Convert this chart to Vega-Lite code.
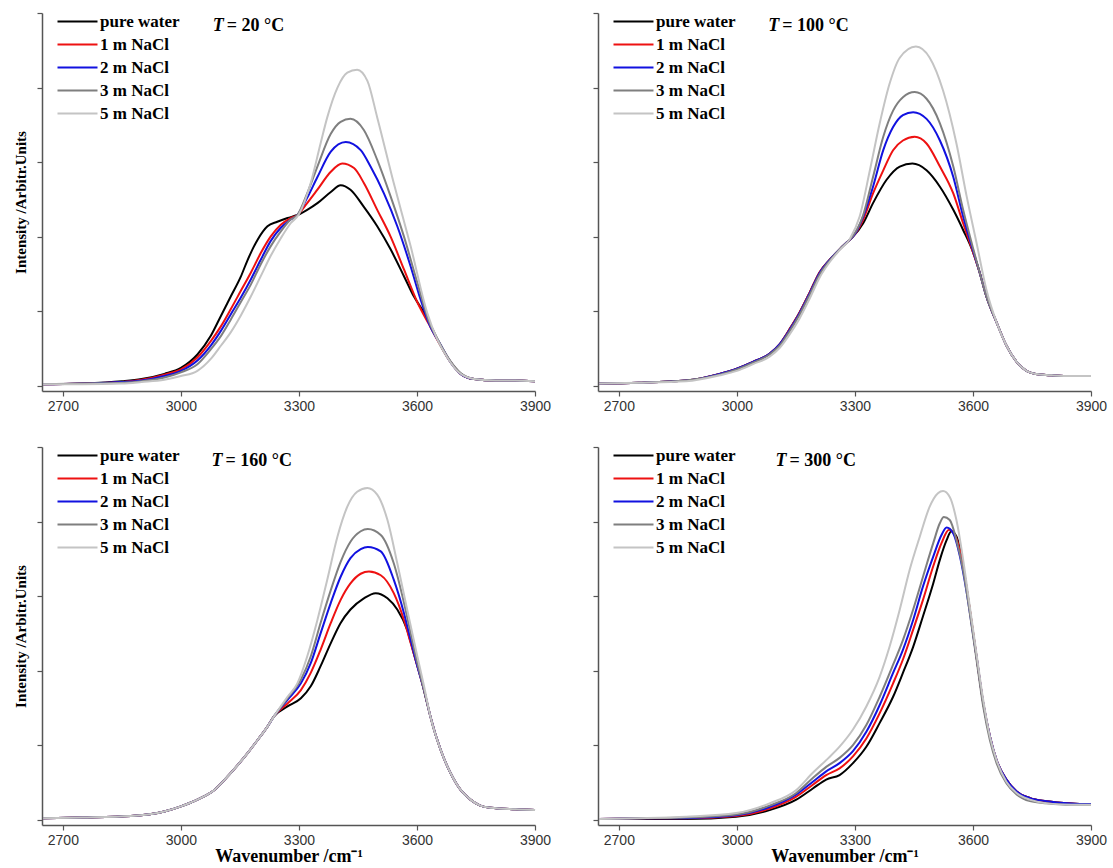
{
"$schema": "https://vega.github.io/schema/vega-lite/v6.json",
"padding": {"left": 13, "top": 12, "right": 12, "bottom": 5},
"background": "white",
"config": {
 "view": {"stroke": null},
 "axis": {"grid": false, "domainColor": "#555555", "tickColor": "#555555", "tickSize": 5, "domainWidth": 1.5, "tickWidth": 1.2, "labelFont": "Liberation Sans", "labelFontSize": 14, "labelColor": "#333333", "labelFlush": false, "labelPadding": 3, "titleFont": "Liberation Serif", "titleFontWeight": "bold", "titleColor": "#000000"},
 "axisY": {"titleFontSize": 15, "titlePadding": 8},
 "axisX": {"titleFontSize": 18, "titlePadding": 0, "format": "d"},
 "legend": {"orient": "none", "legendX": 27, "legendY": 0, "padding": 0, "title": null, "symbolType": "M-4,0H4", "symbolSize": 100, "symbolStrokeWidth": 2, "symbolFillColor": "transparent", "labelFont": "Liberation Serif", "labelFontSize": 17, "labelFontWeight": "bold", "labelColor": "#000000", "labelOffset": 14, "rowPadding": 5}
},
"datasets": {"spectra": [
{"T":20,"s":"pure water","w":2650,"v":0.02},{"T":20,"s":"pure water","w":2750,"v":0.03},{"T":20,"s":"pure water","w":2850,"v":0.06},{"T":20,"s":"pure water","w":2900,"v":0.09},{"T":20,"s":"pure water","w":2958,"v":0.16},{"T":20,"s":"pure water","w":3000,"v":0.24},{"T":20,"s":"pure water","w":3042,"v":0.42},{"T":20,"s":"pure water","w":3076,"v":0.67},{"T":20,"s":"pure water","w":3102,"v":0.94},{"T":20,"s":"pure water","w":3127,"v":1.2},{"T":20,"s":"pure water","w":3152,"v":1.46},{"T":20,"s":"pure water","w":3169,"v":1.68},{"T":20,"s":"pure water","w":3195,"v":1.96},{"T":20,"s":"pure water","w":3220,"v":2.14},{"T":20,"s":"pure water","w":3245,"v":2.2},{"T":20,"s":"pure water","w":3271,"v":2.25},{"T":20,"s":"pure water","w":3296,"v":2.29},{"T":20,"s":"pure water","w":3321,"v":2.36},{"T":20,"s":"pure water","w":3347,"v":2.45},{"T":20,"s":"pure water","w":3381,"v":2.6},{"T":20,"s":"pure water","w":3406,"v":2.69},{"T":20,"s":"pure water","w":3431,"v":2.63},{"T":20,"s":"pure water","w":3465,"v":2.4},{"T":20,"s":"pure water","w":3499,"v":2.14},{"T":20,"s":"pure water","w":3533,"v":1.83},{"T":20,"s":"pure water","w":3567,"v":1.47},{"T":20,"s":"pure water","w":3592,"v":1.2},{"T":20,"s":"pure water","w":3618,"v":0.98},{"T":20,"s":"pure water","w":3634,"v":0.82},{"T":20,"s":"pure water","w":3660,"v":0.54},{"T":20,"s":"pure water","w":3685,"v":0.32},{"T":20,"s":"pure water","w":3711,"v":0.16},{"T":20,"s":"pure water","w":3745,"v":0.09},{"T":20,"s":"pure water","w":3800,"v":0.07},{"T":20,"s":"pure water","w":3850,"v":0.07},{"T":20,"s":"pure water","w":3900,"v":0.06},
{"T":20,"s":"1 m NaCl","w":2650,"v":0.02},{"T":20,"s":"1 m NaCl","w":2750,"v":0.03},{"T":20,"s":"1 m NaCl","w":2850,"v":0.05},{"T":20,"s":"1 m NaCl","w":2900,"v":0.08},{"T":20,"s":"1 m NaCl","w":2958,"v":0.15},{"T":20,"s":"1 m NaCl","w":3000,"v":0.22},{"T":20,"s":"1 m NaCl","w":3042,"v":0.38},{"T":20,"s":"1 m NaCl","w":3076,"v":0.6},{"T":20,"s":"1 m NaCl","w":3102,"v":0.8},{"T":20,"s":"1 m NaCl","w":3127,"v":1.03},{"T":20,"s":"1 m NaCl","w":3152,"v":1.27},{"T":20,"s":"1 m NaCl","w":3178,"v":1.52},{"T":20,"s":"1 m NaCl","w":3203,"v":1.78},{"T":20,"s":"1 m NaCl","w":3228,"v":2.0},{"T":20,"s":"1 m NaCl","w":3254,"v":2.16},{"T":20,"s":"1 m NaCl","w":3279,"v":2.25},{"T":20,"s":"1 m NaCl","w":3296,"v":2.29},{"T":20,"s":"1 m NaCl","w":3321,"v":2.45},{"T":20,"s":"1 m NaCl","w":3347,"v":2.63},{"T":20,"s":"1 m NaCl","w":3381,"v":2.87},{"T":20,"s":"1 m NaCl","w":3410,"v":2.98},{"T":20,"s":"1 m NaCl","w":3440,"v":2.92},{"T":20,"s":"1 m NaCl","w":3465,"v":2.72},{"T":20,"s":"1 m NaCl","w":3499,"v":2.36},{"T":20,"s":"1 m NaCl","w":3533,"v":2.0},{"T":20,"s":"1 m NaCl","w":3567,"v":1.56},{"T":20,"s":"1 m NaCl","w":3601,"v":1.12},{"T":20,"s":"1 m NaCl","w":3630,"v":0.83},{"T":20,"s":"1 m NaCl","w":3660,"v":0.54},{"T":20,"s":"1 m NaCl","w":3685,"v":0.32},{"T":20,"s":"1 m NaCl","w":3711,"v":0.16},{"T":20,"s":"1 m NaCl","w":3745,"v":0.09},{"T":20,"s":"1 m NaCl","w":3800,"v":0.07},{"T":20,"s":"1 m NaCl","w":3850,"v":0.07},{"T":20,"s":"1 m NaCl","w":3900,"v":0.06},
{"T":20,"s":"2 m NaCl","w":2650,"v":0.02},{"T":20,"s":"2 m NaCl","w":2750,"v":0.03},{"T":20,"s":"2 m NaCl","w":2850,"v":0.05},{"T":20,"s":"2 m NaCl","w":2900,"v":0.07},{"T":20,"s":"2 m NaCl","w":2958,"v":0.13},{"T":20,"s":"2 m NaCl","w":3000,"v":0.2},{"T":20,"s":"2 m NaCl","w":3042,"v":0.34},{"T":20,"s":"2 m NaCl","w":3076,"v":0.54},{"T":20,"s":"2 m NaCl","w":3102,"v":0.74},{"T":20,"s":"2 m NaCl","w":3127,"v":0.96},{"T":20,"s":"2 m NaCl","w":3152,"v":1.18},{"T":20,"s":"2 m NaCl","w":3178,"v":1.43},{"T":20,"s":"2 m NaCl","w":3203,"v":1.69},{"T":20,"s":"2 m NaCl","w":3228,"v":1.94},{"T":20,"s":"2 m NaCl","w":3254,"v":2.12},{"T":20,"s":"2 m NaCl","w":3279,"v":2.23},{"T":20,"s":"2 m NaCl","w":3296,"v":2.29},{"T":20,"s":"2 m NaCl","w":3321,"v":2.52},{"T":20,"s":"2 m NaCl","w":3347,"v":2.8},{"T":20,"s":"2 m NaCl","w":3381,"v":3.14},{"T":20,"s":"2 m NaCl","w":3419,"v":3.27},{"T":20,"s":"2 m NaCl","w":3457,"v":3.16},{"T":20,"s":"2 m NaCl","w":3482,"v":2.94},{"T":20,"s":"2 m NaCl","w":3516,"v":2.58},{"T":20,"s":"2 m NaCl","w":3550,"v":2.14},{"T":20,"s":"2 m NaCl","w":3584,"v":1.6},{"T":20,"s":"2 m NaCl","w":3609,"v":1.16},{"T":20,"s":"2 m NaCl","w":3630,"v":0.84},{"T":20,"s":"2 m NaCl","w":3660,"v":0.55},{"T":20,"s":"2 m NaCl","w":3685,"v":0.32},{"T":20,"s":"2 m NaCl","w":3711,"v":0.16},{"T":20,"s":"2 m NaCl","w":3745,"v":0.09},{"T":20,"s":"2 m NaCl","w":3800,"v":0.07},{"T":20,"s":"2 m NaCl","w":3850,"v":0.07},{"T":20,"s":"2 m NaCl","w":3900,"v":0.06},
{"T":20,"s":"3 m NaCl","w":2650,"v":0.02},{"T":20,"s":"3 m NaCl","w":2750,"v":0.03},{"T":20,"s":"3 m NaCl","w":2850,"v":0.04},{"T":20,"s":"3 m NaCl","w":2900,"v":0.06},{"T":20,"s":"3 m NaCl","w":2958,"v":0.11},{"T":20,"s":"3 m NaCl","w":3000,"v":0.18},{"T":20,"s":"3 m NaCl","w":3042,"v":0.29},{"T":20,"s":"3 m NaCl","w":3076,"v":0.49},{"T":20,"s":"3 m NaCl","w":3102,"v":0.67},{"T":20,"s":"3 m NaCl","w":3127,"v":0.89},{"T":20,"s":"3 m NaCl","w":3152,"v":1.12},{"T":20,"s":"3 m NaCl","w":3178,"v":1.36},{"T":20,"s":"3 m NaCl","w":3203,"v":1.63},{"T":20,"s":"3 m NaCl","w":3228,"v":1.87},{"T":20,"s":"3 m NaCl","w":3254,"v":2.07},{"T":20,"s":"3 m NaCl","w":3279,"v":2.23},{"T":20,"s":"3 m NaCl","w":3296,"v":2.29},{"T":20,"s":"3 m NaCl","w":3321,"v":2.58},{"T":20,"s":"3 m NaCl","w":3347,"v":2.94},{"T":20,"s":"3 m NaCl","w":3381,"v":3.38},{"T":20,"s":"3 m NaCl","w":3406,"v":3.54},{"T":20,"s":"3 m NaCl","w":3431,"v":3.58},{"T":20,"s":"3 m NaCl","w":3465,"v":3.43},{"T":20,"s":"3 m NaCl","w":3499,"v":3.03},{"T":20,"s":"3 m NaCl","w":3533,"v":2.54},{"T":20,"s":"3 m NaCl","w":3567,"v":2.0},{"T":20,"s":"3 m NaCl","w":3601,"v":1.38},{"T":20,"s":"3 m NaCl","w":3630,"v":0.87},{"T":20,"s":"3 m NaCl","w":3660,"v":0.55},{"T":20,"s":"3 m NaCl","w":3685,"v":0.33},{"T":20,"s":"3 m NaCl","w":3711,"v":0.17},{"T":20,"s":"3 m NaCl","w":3745,"v":0.09},{"T":20,"s":"3 m NaCl","w":3800,"v":0.07},{"T":20,"s":"3 m NaCl","w":3850,"v":0.07},{"T":20,"s":"3 m NaCl","w":3900,"v":0.06},
{"T":20,"s":"5 m NaCl","w":2650,"v":0.02},{"T":20,"s":"5 m NaCl","w":2750,"v":0.02},{"T":20,"s":"5 m NaCl","w":2850,"v":0.03},{"T":20,"s":"5 m NaCl","w":2900,"v":0.05},{"T":20,"s":"5 m NaCl","w":2958,"v":0.08},{"T":20,"s":"5 m NaCl","w":3000,"v":0.13},{"T":20,"s":"5 m NaCl","w":3042,"v":0.2},{"T":20,"s":"5 m NaCl","w":3076,"v":0.36},{"T":20,"s":"5 m NaCl","w":3102,"v":0.54},{"T":20,"s":"5 m NaCl","w":3127,"v":0.72},{"T":20,"s":"5 m NaCl","w":3152,"v":0.94},{"T":20,"s":"5 m NaCl","w":3178,"v":1.2},{"T":20,"s":"5 m NaCl","w":3203,"v":1.47},{"T":20,"s":"5 m NaCl","w":3228,"v":1.74},{"T":20,"s":"5 m NaCl","w":3254,"v":1.98},{"T":20,"s":"5 m NaCl","w":3279,"v":2.18},{"T":20,"s":"5 m NaCl","w":3300,"v":2.3},{"T":20,"s":"5 m NaCl","w":3330,"v":2.72},{"T":20,"s":"5 m NaCl","w":3355,"v":3.25},{"T":20,"s":"5 m NaCl","w":3372,"v":3.6},{"T":20,"s":"5 m NaCl","w":3398,"v":4.0},{"T":20,"s":"5 m NaCl","w":3423,"v":4.2},{"T":20,"s":"5 m NaCl","w":3448,"v":4.24},{"T":20,"s":"5 m NaCl","w":3474,"v":4.09},{"T":20,"s":"5 m NaCl","w":3499,"v":3.6},{"T":20,"s":"5 m NaCl","w":3541,"v":2.72},{"T":20,"s":"5 m NaCl","w":3584,"v":1.87},{"T":20,"s":"5 m NaCl","w":3626,"v":0.98},{"T":20,"s":"5 m NaCl","w":3651,"v":0.63},{"T":20,"s":"5 m NaCl","w":3677,"v":0.38},{"T":20,"s":"5 m NaCl","w":3706,"v":0.18},{"T":20,"s":"5 m NaCl","w":3745,"v":0.09},{"T":20,"s":"5 m NaCl","w":3800,"v":0.07},{"T":20,"s":"5 m NaCl","w":3850,"v":0.07},{"T":20,"s":"5 m NaCl","w":3900,"v":0.06},

{"T":100,"s":"pure water","w":2650,"v":0.03},{"T":100,"s":"pure water","w":2750,"v":0.04},{"T":100,"s":"pure water","w":2871,"v":0.07},{"T":100,"s":"pure water","w":2956,"v":0.16},{"T":100,"s":"pure water","w":3000,"v":0.23},{"T":100,"s":"pure water","w":3041,"v":0.32},{"T":100,"s":"pure water","w":3083,"v":0.43},{"T":100,"s":"pure water","w":3109,"v":0.56},{"T":100,"s":"pure water","w":3134,"v":0.76},{"T":100,"s":"pure water","w":3159,"v":0.98},{"T":100,"s":"pure water","w":3185,"v":1.25},{"T":100,"s":"pure water","w":3210,"v":1.52},{"T":100,"s":"pure water","w":3236,"v":1.69},{"T":100,"s":"pure water","w":3261,"v":1.83},{"T":100,"s":"pure water","w":3287,"v":1.96},{"T":100,"s":"pure water","w":3295,"v":2.0},{"T":100,"s":"pure water","w":3321,"v":2.18},{"T":100,"s":"pure water","w":3346,"v":2.45},{"T":100,"s":"pure water","w":3380,"v":2.76},{"T":100,"s":"pure water","w":3414,"v":2.94},{"T":100,"s":"pure water","w":3446,"v":2.98},{"T":100,"s":"pure water","w":3482,"v":2.89},{"T":100,"s":"pure water","w":3516,"v":2.67},{"T":100,"s":"pure water","w":3550,"v":2.36},{"T":100,"s":"pure water","w":3575,"v":2.09},{"T":100,"s":"pure water","w":3601,"v":1.78},{"T":100,"s":"pure water","w":3617,"v":1.52},{"T":100,"s":"pure water","w":3634,"v":1.2},{"T":100,"s":"pure water","w":3660,"v":0.85},{"T":100,"s":"pure water","w":3685,"v":0.54},{"T":100,"s":"pure water","w":3711,"v":0.32},{"T":100,"s":"pure water","w":3736,"v":0.2},{"T":100,"s":"pure water","w":3770,"v":0.15},{"T":100,"s":"pure water","w":3800,"v":0.14},{"T":100,"s":"pure water","w":3850,"v":0.13},{"T":100,"s":"pure water","w":3900,"v":0.13},
{"T":100,"s":"1 m NaCl","w":2650,"v":0.03},{"T":100,"s":"1 m NaCl","w":2750,"v":0.04},{"T":100,"s":"1 m NaCl","w":2871,"v":0.07},{"T":100,"s":"1 m NaCl","w":2956,"v":0.16},{"T":100,"s":"1 m NaCl","w":3000,"v":0.23},{"T":100,"s":"1 m NaCl","w":3041,"v":0.32},{"T":100,"s":"1 m NaCl","w":3083,"v":0.43},{"T":100,"s":"1 m NaCl","w":3109,"v":0.56},{"T":100,"s":"1 m NaCl","w":3134,"v":0.76},{"T":100,"s":"1 m NaCl","w":3159,"v":0.98},{"T":100,"s":"1 m NaCl","w":3185,"v":1.25},{"T":100,"s":"1 m NaCl","w":3210,"v":1.52},{"T":100,"s":"1 m NaCl","w":3236,"v":1.69},{"T":100,"s":"1 m NaCl","w":3261,"v":1.83},{"T":100,"s":"1 m NaCl","w":3287,"v":1.96},{"T":100,"s":"1 m NaCl","w":3295,"v":2.0},{"T":100,"s":"1 m NaCl","w":3321,"v":2.23},{"T":100,"s":"1 m NaCl","w":3346,"v":2.58},{"T":100,"s":"1 m NaCl","w":3372,"v":2.89},{"T":100,"s":"1 m NaCl","w":3397,"v":3.16},{"T":100,"s":"1 m NaCl","w":3422,"v":3.29},{"T":100,"s":"1 m NaCl","w":3452,"v":3.34},{"T":100,"s":"1 m NaCl","w":3482,"v":3.25},{"T":100,"s":"1 m NaCl","w":3516,"v":2.94},{"T":100,"s":"1 m NaCl","w":3550,"v":2.58},{"T":100,"s":"1 m NaCl","w":3575,"v":2.18},{"T":100,"s":"1 m NaCl","w":3601,"v":1.78},{"T":100,"s":"1 m NaCl","w":3617,"v":1.52},{"T":100,"s":"1 m NaCl","w":3634,"v":1.2},{"T":100,"s":"1 m NaCl","w":3660,"v":0.85},{"T":100,"s":"1 m NaCl","w":3685,"v":0.54},{"T":100,"s":"1 m NaCl","w":3711,"v":0.32},{"T":100,"s":"1 m NaCl","w":3736,"v":0.2},{"T":100,"s":"1 m NaCl","w":3770,"v":0.15},{"T":100,"s":"1 m NaCl","w":3800,"v":0.14},{"T":100,"s":"1 m NaCl","w":3850,"v":0.13},{"T":100,"s":"1 m NaCl","w":3900,"v":0.13},
{"T":100,"s":"2 m NaCl","w":2650,"v":0.03},{"T":100,"s":"2 m NaCl","w":2750,"v":0.04},{"T":100,"s":"2 m NaCl","w":2871,"v":0.07},{"T":100,"s":"2 m NaCl","w":2956,"v":0.16},{"T":100,"s":"2 m NaCl","w":3000,"v":0.23},{"T":100,"s":"2 m NaCl","w":3041,"v":0.32},{"T":100,"s":"2 m NaCl","w":3083,"v":0.43},{"T":100,"s":"2 m NaCl","w":3109,"v":0.56},{"T":100,"s":"2 m NaCl","w":3134,"v":0.75},{"T":100,"s":"2 m NaCl","w":3159,"v":0.97},{"T":100,"s":"2 m NaCl","w":3185,"v":1.24},{"T":100,"s":"2 m NaCl","w":3210,"v":1.51},{"T":100,"s":"2 m NaCl","w":3236,"v":1.69},{"T":100,"s":"2 m NaCl","w":3261,"v":1.83},{"T":100,"s":"2 m NaCl","w":3287,"v":1.96},{"T":100,"s":"2 m NaCl","w":3295,"v":2.0},{"T":100,"s":"2 m NaCl","w":3321,"v":2.27},{"T":100,"s":"2 m NaCl","w":3346,"v":2.67},{"T":100,"s":"2 m NaCl","w":3372,"v":3.16},{"T":100,"s":"2 m NaCl","w":3397,"v":3.47},{"T":100,"s":"2 m NaCl","w":3422,"v":3.63},{"T":100,"s":"2 m NaCl","w":3448,"v":3.67},{"T":100,"s":"2 m NaCl","w":3482,"v":3.58},{"T":100,"s":"2 m NaCl","w":3516,"v":3.29},{"T":100,"s":"2 m NaCl","w":3550,"v":2.8},{"T":100,"s":"2 m NaCl","w":3575,"v":2.27},{"T":100,"s":"2 m NaCl","w":3601,"v":1.8},{"T":100,"s":"2 m NaCl","w":3617,"v":1.52},{"T":100,"s":"2 m NaCl","w":3634,"v":1.2},{"T":100,"s":"2 m NaCl","w":3660,"v":0.85},{"T":100,"s":"2 m NaCl","w":3685,"v":0.54},{"T":100,"s":"2 m NaCl","w":3711,"v":0.32},{"T":100,"s":"2 m NaCl","w":3736,"v":0.2},{"T":100,"s":"2 m NaCl","w":3770,"v":0.15},{"T":100,"s":"2 m NaCl","w":3800,"v":0.14},{"T":100,"s":"2 m NaCl","w":3850,"v":0.13},{"T":100,"s":"2 m NaCl","w":3900,"v":0.13},
{"T":100,"s":"3 m NaCl","w":2650,"v":0.03},{"T":100,"s":"3 m NaCl","w":2750,"v":0.04},{"T":100,"s":"3 m NaCl","w":2871,"v":0.07},{"T":100,"s":"3 m NaCl","w":2956,"v":0.15},{"T":100,"s":"3 m NaCl","w":3000,"v":0.22},{"T":100,"s":"3 m NaCl","w":3041,"v":0.31},{"T":100,"s":"3 m NaCl","w":3083,"v":0.42},{"T":100,"s":"3 m NaCl","w":3109,"v":0.54},{"T":100,"s":"3 m NaCl","w":3134,"v":0.73},{"T":100,"s":"3 m NaCl","w":3159,"v":0.95},{"T":100,"s":"3 m NaCl","w":3185,"v":1.22},{"T":100,"s":"3 m NaCl","w":3210,"v":1.49},{"T":100,"s":"3 m NaCl","w":3236,"v":1.68},{"T":100,"s":"3 m NaCl","w":3261,"v":1.83},{"T":100,"s":"3 m NaCl","w":3287,"v":1.96},{"T":100,"s":"3 m NaCl","w":3295,"v":2.01},{"T":100,"s":"3 m NaCl","w":3321,"v":2.29},{"T":100,"s":"3 m NaCl","w":3346,"v":2.8},{"T":100,"s":"3 m NaCl","w":3372,"v":3.34},{"T":100,"s":"3 m NaCl","w":3397,"v":3.69},{"T":100,"s":"3 m NaCl","w":3422,"v":3.87},{"T":100,"s":"3 m NaCl","w":3452,"v":3.94},{"T":100,"s":"3 m NaCl","w":3482,"v":3.85},{"T":100,"s":"3 m NaCl","w":3516,"v":3.52},{"T":100,"s":"3 m NaCl","w":3550,"v":2.94},{"T":100,"s":"3 m NaCl","w":3575,"v":2.36},{"T":100,"s":"3 m NaCl","w":3601,"v":1.83},{"T":100,"s":"3 m NaCl","w":3617,"v":1.52},{"T":100,"s":"3 m NaCl","w":3634,"v":1.2},{"T":100,"s":"3 m NaCl","w":3660,"v":0.85},{"T":100,"s":"3 m NaCl","w":3685,"v":0.54},{"T":100,"s":"3 m NaCl","w":3711,"v":0.32},{"T":100,"s":"3 m NaCl","w":3736,"v":0.2},{"T":100,"s":"3 m NaCl","w":3770,"v":0.15},{"T":100,"s":"3 m NaCl","w":3800,"v":0.14},{"T":100,"s":"3 m NaCl","w":3850,"v":0.13},{"T":100,"s":"3 m NaCl","w":3900,"v":0.13},
{"T":100,"s":"5 m NaCl","w":2650,"v":0.03},{"T":100,"s":"5 m NaCl","w":2750,"v":0.04},{"T":100,"s":"5 m NaCl","w":2871,"v":0.06},{"T":100,"s":"5 m NaCl","w":2956,"v":0.14},{"T":100,"s":"5 m NaCl","w":3000,"v":0.2},{"T":100,"s":"5 m NaCl","w":3041,"v":0.29},{"T":100,"s":"5 m NaCl","w":3083,"v":0.39},{"T":100,"s":"5 m NaCl","w":3109,"v":0.51},{"T":100,"s":"5 m NaCl","w":3134,"v":0.69},{"T":100,"s":"5 m NaCl","w":3159,"v":0.9},{"T":100,"s":"5 m NaCl","w":3185,"v":1.17},{"T":100,"s":"5 m NaCl","w":3210,"v":1.45},{"T":100,"s":"5 m NaCl","w":3236,"v":1.66},{"T":100,"s":"5 m NaCl","w":3261,"v":1.82},{"T":100,"s":"5 m NaCl","w":3287,"v":1.97},{"T":100,"s":"5 m NaCl","w":3312,"v":2.27},{"T":100,"s":"5 m NaCl","w":3338,"v":2.89},{"T":100,"s":"5 m NaCl","w":3363,"v":3.52},{"T":100,"s":"5 m NaCl","w":3388,"v":4.05},{"T":100,"s":"5 m NaCl","w":3414,"v":4.4},{"T":100,"s":"5 m NaCl","w":3455,"v":4.55},{"T":100,"s":"5 m NaCl","w":3490,"v":4.4},{"T":100,"s":"5 m NaCl","w":3524,"v":3.96},{"T":100,"s":"5 m NaCl","w":3558,"v":3.25},{"T":100,"s":"5 m NaCl","w":3584,"v":2.54},{"T":100,"s":"5 m NaCl","w":3609,"v":1.92},{"T":100,"s":"5 m NaCl","w":3634,"v":1.29},{"T":100,"s":"5 m NaCl","w":3660,"v":0.85},{"T":100,"s":"5 m NaCl","w":3685,"v":0.54},{"T":100,"s":"5 m NaCl","w":3711,"v":0.32},{"T":100,"s":"5 m NaCl","w":3736,"v":0.2},{"T":100,"s":"5 m NaCl","w":3770,"v":0.15},{"T":100,"s":"5 m NaCl","w":3800,"v":0.14},{"T":100,"s":"5 m NaCl","w":3850,"v":0.13},{"T":100,"s":"5 m NaCl","w":3900,"v":0.13},

{"T":160,"s":"pure water","w":2650,"v":0.02},{"T":160,"s":"pure water","w":2750,"v":0.03},{"T":160,"s":"pure water","w":2873,"v":0.05},{"T":160,"s":"pure water","w":2958,"v":0.11},{"T":160,"s":"pure water","w":3000,"v":0.18},{"T":160,"s":"pure water","w":3042,"v":0.27},{"T":160,"s":"pure water","w":3085,"v":0.4},{"T":160,"s":"pure water","w":3127,"v":0.63},{"T":160,"s":"pure water","w":3169,"v":0.89},{"T":160,"s":"pure water","w":3195,"v":1.07},{"T":160,"s":"pure water","w":3220,"v":1.25},{"T":160,"s":"pure water","w":3237,"v":1.39},{"T":160,"s":"pure water","w":3271,"v":1.52},{"T":160,"s":"pure water","w":3305,"v":1.63},{"T":160,"s":"pure water","w":3330,"v":1.79},{"T":160,"s":"pure water","w":3355,"v":2.06},{"T":160,"s":"pure water","w":3381,"v":2.37},{"T":160,"s":"pure water","w":3406,"v":2.64},{"T":160,"s":"pure water","w":3431,"v":2.82},{"T":160,"s":"pure water","w":3465,"v":2.97},{"T":160,"s":"pure water","w":3495,"v":3.04},{"T":160,"s":"pure water","w":3525,"v":2.97},{"T":160,"s":"pure water","w":3550,"v":2.82},{"T":160,"s":"pure water","w":3575,"v":2.55},{"T":160,"s":"pure water","w":3592,"v":2.23},{"T":160,"s":"pure water","w":3609,"v":1.92},{"T":160,"s":"pure water","w":3626,"v":1.56},{"T":160,"s":"pure water","w":3643,"v":1.21},{"T":160,"s":"pure water","w":3660,"v":0.94},{"T":160,"s":"pure water","w":3685,"v":0.63},{"T":160,"s":"pure water","w":3711,"v":0.4},{"T":160,"s":"pure water","w":3736,"v":0.27},{"T":160,"s":"pure water","w":3761,"v":0.19},{"T":160,"s":"pure water","w":3787,"v":0.16},{"T":160,"s":"pure water","w":3850,"v":0.14},{"T":160,"s":"pure water","w":3900,"v":0.13},
{"T":160,"s":"1 m NaCl","w":2650,"v":0.02},{"T":160,"s":"1 m NaCl","w":2750,"v":0.03},{"T":160,"s":"1 m NaCl","w":2873,"v":0.05},{"T":160,"s":"1 m NaCl","w":2958,"v":0.11},{"T":160,"s":"1 m NaCl","w":3000,"v":0.18},{"T":160,"s":"1 m NaCl","w":3042,"v":0.27},{"T":160,"s":"1 m NaCl","w":3085,"v":0.4},{"T":160,"s":"1 m NaCl","w":3127,"v":0.63},{"T":160,"s":"1 m NaCl","w":3169,"v":0.89},{"T":160,"s":"1 m NaCl","w":3195,"v":1.07},{"T":160,"s":"1 m NaCl","w":3220,"v":1.25},{"T":160,"s":"1 m NaCl","w":3237,"v":1.39},{"T":160,"s":"1 m NaCl","w":3271,"v":1.56},{"T":160,"s":"1 m NaCl","w":3305,"v":1.74},{"T":160,"s":"1 m NaCl","w":3330,"v":1.97},{"T":160,"s":"1 m NaCl","w":3355,"v":2.28},{"T":160,"s":"1 m NaCl","w":3381,"v":2.64},{"T":160,"s":"1 m NaCl","w":3406,"v":2.95},{"T":160,"s":"1 m NaCl","w":3431,"v":3.17},{"T":160,"s":"1 m NaCl","w":3457,"v":3.3},{"T":160,"s":"1 m NaCl","w":3478,"v":3.33},{"T":160,"s":"1 m NaCl","w":3508,"v":3.28},{"T":160,"s":"1 m NaCl","w":3541,"v":3.04},{"T":160,"s":"1 m NaCl","w":3567,"v":2.68},{"T":160,"s":"1 m NaCl","w":3584,"v":2.37},{"T":160,"s":"1 m NaCl","w":3601,"v":2.06},{"T":160,"s":"1 m NaCl","w":3618,"v":1.74},{"T":160,"s":"1 m NaCl","w":3634,"v":1.39},{"T":160,"s":"1 m NaCl","w":3660,"v":0.94},{"T":160,"s":"1 m NaCl","w":3685,"v":0.63},{"T":160,"s":"1 m NaCl","w":3711,"v":0.4},{"T":160,"s":"1 m NaCl","w":3736,"v":0.27},{"T":160,"s":"1 m NaCl","w":3761,"v":0.19},{"T":160,"s":"1 m NaCl","w":3787,"v":0.16},{"T":160,"s":"1 m NaCl","w":3850,"v":0.14},{"T":160,"s":"1 m NaCl","w":3900,"v":0.13},
{"T":160,"s":"2 m NaCl","w":2650,"v":0.02},{"T":160,"s":"2 m NaCl","w":2750,"v":0.03},{"T":160,"s":"2 m NaCl","w":2873,"v":0.05},{"T":160,"s":"2 m NaCl","w":2958,"v":0.11},{"T":160,"s":"2 m NaCl","w":3000,"v":0.18},{"T":160,"s":"2 m NaCl","w":3042,"v":0.27},{"T":160,"s":"2 m NaCl","w":3085,"v":0.4},{"T":160,"s":"2 m NaCl","w":3127,"v":0.63},{"T":160,"s":"2 m NaCl","w":3169,"v":0.89},{"T":160,"s":"2 m NaCl","w":3195,"v":1.07},{"T":160,"s":"2 m NaCl","w":3220,"v":1.25},{"T":160,"s":"2 m NaCl","w":3237,"v":1.39},{"T":160,"s":"2 m NaCl","w":3271,"v":1.61},{"T":160,"s":"2 m NaCl","w":3305,"v":1.83},{"T":160,"s":"2 m NaCl","w":3330,"v":2.1},{"T":160,"s":"2 m NaCl","w":3355,"v":2.5},{"T":160,"s":"2 m NaCl","w":3381,"v":2.91},{"T":160,"s":"2 m NaCl","w":3406,"v":3.26},{"T":160,"s":"2 m NaCl","w":3431,"v":3.51},{"T":160,"s":"2 m NaCl","w":3457,"v":3.63},{"T":160,"s":"2 m NaCl","w":3475,"v":3.66},{"T":160,"s":"2 m NaCl","w":3508,"v":3.6},{"T":160,"s":"2 m NaCl","w":3541,"v":3.22},{"T":160,"s":"2 m NaCl","w":3567,"v":2.77},{"T":160,"s":"2 m NaCl","w":3584,"v":2.41},{"T":160,"s":"2 m NaCl","w":3601,"v":2.06},{"T":160,"s":"2 m NaCl","w":3618,"v":1.74},{"T":160,"s":"2 m NaCl","w":3634,"v":1.39},{"T":160,"s":"2 m NaCl","w":3660,"v":0.94},{"T":160,"s":"2 m NaCl","w":3685,"v":0.63},{"T":160,"s":"2 m NaCl","w":3711,"v":0.4},{"T":160,"s":"2 m NaCl","w":3736,"v":0.27},{"T":160,"s":"2 m NaCl","w":3761,"v":0.19},{"T":160,"s":"2 m NaCl","w":3787,"v":0.16},{"T":160,"s":"2 m NaCl","w":3850,"v":0.14},{"T":160,"s":"2 m NaCl","w":3900,"v":0.13},
{"T":160,"s":"3 m NaCl","w":2650,"v":0.02},{"T":160,"s":"3 m NaCl","w":2750,"v":0.03},{"T":160,"s":"3 m NaCl","w":2873,"v":0.05},{"T":160,"s":"3 m NaCl","w":2958,"v":0.11},{"T":160,"s":"3 m NaCl","w":3000,"v":0.18},{"T":160,"s":"3 m NaCl","w":3042,"v":0.27},{"T":160,"s":"3 m NaCl","w":3085,"v":0.4},{"T":160,"s":"3 m NaCl","w":3127,"v":0.63},{"T":160,"s":"3 m NaCl","w":3169,"v":0.89},{"T":160,"s":"3 m NaCl","w":3195,"v":1.07},{"T":160,"s":"3 m NaCl","w":3220,"v":1.25},{"T":160,"s":"3 m NaCl","w":3237,"v":1.39},{"T":160,"s":"3 m NaCl","w":3271,"v":1.63},{"T":160,"s":"3 m NaCl","w":3305,"v":1.88},{"T":160,"s":"3 m NaCl","w":3330,"v":2.19},{"T":160,"s":"3 m NaCl","w":3355,"v":2.64},{"T":160,"s":"3 m NaCl","w":3381,"v":3.08},{"T":160,"s":"3 m NaCl","w":3406,"v":3.46},{"T":160,"s":"3 m NaCl","w":3431,"v":3.73},{"T":160,"s":"3 m NaCl","w":3457,"v":3.87},{"T":160,"s":"3 m NaCl","w":3475,"v":3.9},{"T":160,"s":"3 m NaCl","w":3508,"v":3.82},{"T":160,"s":"3 m NaCl","w":3541,"v":3.44},{"T":160,"s":"3 m NaCl","w":3567,"v":2.91},{"T":160,"s":"3 m NaCl","w":3584,"v":2.5},{"T":160,"s":"3 m NaCl","w":3601,"v":2.1},{"T":160,"s":"3 m NaCl","w":3618,"v":1.74},{"T":160,"s":"3 m NaCl","w":3634,"v":1.39},{"T":160,"s":"3 m NaCl","w":3660,"v":0.94},{"T":160,"s":"3 m NaCl","w":3685,"v":0.63},{"T":160,"s":"3 m NaCl","w":3711,"v":0.4},{"T":160,"s":"3 m NaCl","w":3736,"v":0.27},{"T":160,"s":"3 m NaCl","w":3761,"v":0.19},{"T":160,"s":"3 m NaCl","w":3787,"v":0.16},{"T":160,"s":"3 m NaCl","w":3850,"v":0.14},{"T":160,"s":"3 m NaCl","w":3900,"v":0.13},
{"T":160,"s":"5 m NaCl","w":2650,"v":0.02},{"T":160,"s":"5 m NaCl","w":2750,"v":0.03},{"T":160,"s":"5 m NaCl","w":2873,"v":0.05},{"T":160,"s":"5 m NaCl","w":2958,"v":0.11},{"T":160,"s":"5 m NaCl","w":3000,"v":0.18},{"T":160,"s":"5 m NaCl","w":3042,"v":0.27},{"T":160,"s":"5 m NaCl","w":3085,"v":0.4},{"T":160,"s":"5 m NaCl","w":3127,"v":0.63},{"T":160,"s":"5 m NaCl","w":3169,"v":0.89},{"T":160,"s":"5 m NaCl","w":3195,"v":1.07},{"T":160,"s":"5 m NaCl","w":3220,"v":1.25},{"T":160,"s":"5 m NaCl","w":3237,"v":1.39},{"T":160,"s":"5 m NaCl","w":3271,"v":1.65},{"T":160,"s":"5 m NaCl","w":3296,"v":1.83},{"T":160,"s":"5 m NaCl","w":3321,"v":2.19},{"T":160,"s":"5 m NaCl","w":3347,"v":2.68},{"T":160,"s":"5 m NaCl","w":3372,"v":3.22},{"T":160,"s":"5 m NaCl","w":3398,"v":3.8},{"T":160,"s":"5 m NaCl","w":3423,"v":4.2},{"T":160,"s":"5 m NaCl","w":3448,"v":4.4},{"T":160,"s":"5 m NaCl","w":3474,"v":4.45},{"T":160,"s":"5 m NaCl","w":3499,"v":4.36},{"T":160,"s":"5 m NaCl","w":3525,"v":4.02},{"T":160,"s":"5 m NaCl","w":3550,"v":3.44},{"T":160,"s":"5 m NaCl","w":3575,"v":2.82},{"T":160,"s":"5 m NaCl","w":3601,"v":2.19},{"T":160,"s":"5 m NaCl","w":3618,"v":1.79},{"T":160,"s":"5 m NaCl","w":3634,"v":1.39},{"T":160,"s":"5 m NaCl","w":3660,"v":0.94},{"T":160,"s":"5 m NaCl","w":3685,"v":0.63},{"T":160,"s":"5 m NaCl","w":3711,"v":0.4},{"T":160,"s":"5 m NaCl","w":3736,"v":0.27},{"T":160,"s":"5 m NaCl","w":3761,"v":0.19},{"T":160,"s":"5 m NaCl","w":3787,"v":0.16},{"T":160,"s":"5 m NaCl","w":3850,"v":0.14},{"T":160,"s":"5 m NaCl","w":3900,"v":0.13},

{"T":300,"s":"pure water","w":2650,"v":0.01},{"T":300,"s":"pure water","w":2750,"v":0.01},{"T":300,"s":"pure water","w":2871,"v":0.01},{"T":300,"s":"pure water","w":2998,"v":0.04},{"T":300,"s":"pure water","w":3083,"v":0.13},{"T":300,"s":"pure water","w":3151,"v":0.27},{"T":300,"s":"pure water","w":3193,"v":0.42},{"T":300,"s":"pure water","w":3227,"v":0.54},{"T":300,"s":"pure water","w":3261,"v":0.6},{"T":300,"s":"pure water","w":3295,"v":0.76},{"T":300,"s":"pure water","w":3329,"v":0.98},{"T":300,"s":"pure water","w":3363,"v":1.3},{"T":300,"s":"pure water","w":3397,"v":1.65},{"T":300,"s":"pure water","w":3422,"v":1.97},{"T":300,"s":"pure water","w":3448,"v":2.32},{"T":300,"s":"pure water","w":3473,"v":2.73},{"T":300,"s":"pure water","w":3499,"v":3.17},{"T":300,"s":"pure water","w":3516,"v":3.49},{"T":300,"s":"pure water","w":3533,"v":3.75},{"T":300,"s":"pure water","w":3545,"v":3.87},{"T":300,"s":"pure water","w":3558,"v":3.8},{"T":300,"s":"pure water","w":3575,"v":3.4},{"T":300,"s":"pure water","w":3592,"v":2.82},{"T":300,"s":"pure water","w":3609,"v":2.19},{"T":300,"s":"pure water","w":3626,"v":1.57},{"T":300,"s":"pure water","w":3643,"v":1.12},{"T":300,"s":"pure water","w":3660,"v":0.8},{"T":300,"s":"pure water","w":3685,"v":0.54},{"T":300,"s":"pure water","w":3711,"v":0.38},{"T":300,"s":"pure water","w":3745,"v":0.29},{"T":300,"s":"pure water","w":3787,"v":0.25},{"T":300,"s":"pure water","w":3850,"v":0.22},{"T":300,"s":"pure water","w":3900,"v":0.21},
{"T":300,"s":"1 m NaCl","w":2650,"v":0.01},{"T":300,"s":"1 m NaCl","w":2750,"v":0.02},{"T":300,"s":"1 m NaCl","w":2871,"v":0.02},{"T":300,"s":"1 m NaCl","w":2998,"v":0.05},{"T":300,"s":"1 m NaCl","w":3083,"v":0.15},{"T":300,"s":"1 m NaCl","w":3151,"v":0.31},{"T":300,"s":"1 m NaCl","w":3193,"v":0.47},{"T":300,"s":"1 m NaCl","w":3227,"v":0.6},{"T":300,"s":"1 m NaCl","w":3261,"v":0.69},{"T":300,"s":"1 m NaCl","w":3295,"v":0.85},{"T":300,"s":"1 m NaCl","w":3329,"v":1.09},{"T":300,"s":"1 m NaCl","w":3363,"v":1.43},{"T":300,"s":"1 m NaCl","w":3397,"v":1.83},{"T":300,"s":"1 m NaCl","w":3422,"v":2.15},{"T":300,"s":"1 m NaCl","w":3448,"v":2.55},{"T":300,"s":"1 m NaCl","w":3473,"v":2.95},{"T":300,"s":"1 m NaCl","w":3499,"v":3.4},{"T":300,"s":"1 m NaCl","w":3520,"v":3.71},{"T":300,"s":"1 m NaCl","w":3539,"v":3.89},{"T":300,"s":"1 m NaCl","w":3554,"v":3.82},{"T":300,"s":"1 m NaCl","w":3575,"v":3.4},{"T":300,"s":"1 m NaCl","w":3592,"v":2.82},{"T":300,"s":"1 m NaCl","w":3609,"v":2.19},{"T":300,"s":"1 m NaCl","w":3626,"v":1.57},{"T":300,"s":"1 m NaCl","w":3643,"v":1.12},{"T":300,"s":"1 m NaCl","w":3660,"v":0.8},{"T":300,"s":"1 m NaCl","w":3685,"v":0.54},{"T":300,"s":"1 m NaCl","w":3711,"v":0.38},{"T":300,"s":"1 m NaCl","w":3745,"v":0.29},{"T":300,"s":"1 m NaCl","w":3787,"v":0.25},{"T":300,"s":"1 m NaCl","w":3850,"v":0.22},{"T":300,"s":"1 m NaCl","w":3900,"v":0.21},
{"T":300,"s":"2 m NaCl","w":2650,"v":0.01},{"T":300,"s":"2 m NaCl","w":2750,"v":0.02},{"T":300,"s":"2 m NaCl","w":2871,"v":0.02},{"T":300,"s":"2 m NaCl","w":2998,"v":0.06},{"T":300,"s":"2 m NaCl","w":3083,"v":0.17},{"T":300,"s":"2 m NaCl","w":3151,"v":0.34},{"T":300,"s":"2 m NaCl","w":3193,"v":0.51},{"T":300,"s":"2 m NaCl","w":3227,"v":0.65},{"T":300,"s":"2 m NaCl","w":3261,"v":0.76},{"T":300,"s":"2 m NaCl","w":3295,"v":0.92},{"T":300,"s":"2 m NaCl","w":3329,"v":1.18},{"T":300,"s":"2 m NaCl","w":3363,"v":1.54},{"T":300,"s":"2 m NaCl","w":3397,"v":1.97},{"T":300,"s":"2 m NaCl","w":3422,"v":2.28},{"T":300,"s":"2 m NaCl","w":3448,"v":2.68},{"T":300,"s":"2 m NaCl","w":3473,"v":3.13},{"T":300,"s":"2 m NaCl","w":3499,"v":3.53},{"T":300,"s":"2 m NaCl","w":3520,"v":3.82},{"T":300,"s":"2 m NaCl","w":3533,"v":3.92},{"T":300,"s":"2 m NaCl","w":3550,"v":3.84},{"T":300,"s":"2 m NaCl","w":3567,"v":3.53},{"T":300,"s":"2 m NaCl","w":3584,"v":3.05},{"T":300,"s":"2 m NaCl","w":3600,"v":2.5},{"T":300,"s":"2 m NaCl","w":3609,"v":2.19},{"T":300,"s":"2 m NaCl","w":3626,"v":1.57},{"T":300,"s":"2 m NaCl","w":3643,"v":1.12},{"T":300,"s":"2 m NaCl","w":3660,"v":0.8},{"T":300,"s":"2 m NaCl","w":3685,"v":0.54},{"T":300,"s":"2 m NaCl","w":3711,"v":0.38},{"T":300,"s":"2 m NaCl","w":3745,"v":0.29},{"T":300,"s":"2 m NaCl","w":3787,"v":0.25},{"T":300,"s":"2 m NaCl","w":3850,"v":0.22},{"T":300,"s":"2 m NaCl","w":3900,"v":0.21},
{"T":300,"s":"3 m NaCl","w":2650,"v":0.01},{"T":300,"s":"3 m NaCl","w":2750,"v":0.02},{"T":300,"s":"3 m NaCl","w":2871,"v":0.03},{"T":300,"s":"3 m NaCl","w":2998,"v":0.07},{"T":300,"s":"3 m NaCl","w":3083,"v":0.19},{"T":300,"s":"3 m NaCl","w":3151,"v":0.36},{"T":300,"s":"3 m NaCl","w":3193,"v":0.56},{"T":300,"s":"3 m NaCl","w":3227,"v":0.71},{"T":300,"s":"3 m NaCl","w":3261,"v":0.83},{"T":300,"s":"3 m NaCl","w":3295,"v":1.0},{"T":300,"s":"3 m NaCl","w":3329,"v":1.27},{"T":300,"s":"3 m NaCl","w":3363,"v":1.65},{"T":300,"s":"3 m NaCl","w":3397,"v":2.08},{"T":300,"s":"3 m NaCl","w":3422,"v":2.41},{"T":300,"s":"3 m NaCl","w":3448,"v":2.82},{"T":300,"s":"3 m NaCl","w":3473,"v":3.26},{"T":300,"s":"3 m NaCl","w":3499,"v":3.71},{"T":300,"s":"3 m NaCl","w":3516,"v":3.98},{"T":300,"s":"3 m NaCl","w":3526,"v":4.06},{"T":300,"s":"3 m NaCl","w":3541,"v":4.02},{"T":300,"s":"3 m NaCl","w":3558,"v":3.75},{"T":300,"s":"3 m NaCl","w":3575,"v":3.35},{"T":300,"s":"3 m NaCl","w":3592,"v":2.77},{"T":300,"s":"3 m NaCl","w":3609,"v":2.15},{"T":300,"s":"3 m NaCl","w":3626,"v":1.52},{"T":300,"s":"3 m NaCl","w":3643,"v":1.07},{"T":300,"s":"3 m NaCl","w":3660,"v":0.76},{"T":300,"s":"3 m NaCl","w":3685,"v":0.49},{"T":300,"s":"3 m NaCl","w":3711,"v":0.34},{"T":300,"s":"3 m NaCl","w":3745,"v":0.25},{"T":300,"s":"3 m NaCl","w":3787,"v":0.22},{"T":300,"s":"3 m NaCl","w":3850,"v":0.2},{"T":300,"s":"3 m NaCl","w":3900,"v":0.2},
{"T":300,"s":"5 m NaCl","w":2650,"v":0.01},{"T":300,"s":"5 m NaCl","w":2750,"v":0.02},{"T":300,"s":"5 m NaCl","w":2871,"v":0.04},{"T":300,"s":"5 m NaCl","w":2998,"v":0.09},{"T":300,"s":"5 m NaCl","w":3083,"v":0.22},{"T":300,"s":"5 m NaCl","w":3151,"v":0.4},{"T":300,"s":"5 m NaCl","w":3193,"v":0.63},{"T":300,"s":"5 m NaCl","w":3227,"v":0.8},{"T":300,"s":"5 m NaCl","w":3261,"v":0.98},{"T":300,"s":"5 m NaCl","w":3295,"v":1.21},{"T":300,"s":"5 m NaCl","w":3329,"v":1.52},{"T":300,"s":"5 m NaCl","w":3363,"v":1.92},{"T":300,"s":"5 m NaCl","w":3388,"v":2.32},{"T":300,"s":"5 m NaCl","w":3414,"v":2.82},{"T":300,"s":"5 m NaCl","w":3439,"v":3.35},{"T":300,"s":"5 m NaCl","w":3465,"v":3.8},{"T":300,"s":"5 m NaCl","w":3490,"v":4.2},{"T":300,"s":"5 m NaCl","w":3511,"v":4.38},{"T":300,"s":"5 m NaCl","w":3524,"v":4.41},{"T":300,"s":"5 m NaCl","w":3541,"v":4.33},{"T":300,"s":"5 m NaCl","w":3558,"v":4.02},{"T":300,"s":"5 m NaCl","w":3575,"v":3.49},{"T":300,"s":"5 m NaCl","w":3592,"v":2.86},{"T":300,"s":"5 m NaCl","w":3609,"v":2.23},{"T":300,"s":"5 m NaCl","w":3626,"v":1.61},{"T":300,"s":"5 m NaCl","w":3643,"v":1.12},{"T":300,"s":"5 m NaCl","w":3660,"v":0.8},{"T":300,"s":"5 m NaCl","w":3685,"v":0.51},{"T":300,"s":"5 m NaCl","w":3711,"v":0.36},{"T":300,"s":"5 m NaCl","w":3745,"v":0.27},{"T":300,"s":"5 m NaCl","w":3787,"v":0.22},{"T":300,"s":"5 m NaCl","w":3850,"v":0.2},{"T":300,"s":"5 m NaCl","w":3900,"v":0.2}
]},
"columns": 2,
"spacing": {"row": 33, "column": 41},
"resolve": {"scale": {"color": "independent"}, "legend": {"color": "independent"}},
"concat": [
 {"width": 493, "height": 378, "layer": [
  {"data": {"name": "spectra"}, "transform": [{"filter": "datum.T == 20"}], "mark": {"type": "line", "strokeWidth": 2, "interpolate": "monotone"},
   "encoding": {
    "x": {"field": "w", "type": "quantitative", "scale": {"domain": [2647, 3900], "nice": false, "zero": false}, "axis": {"values": [2700, 3000, 3300, 3600, 3900], "title": null}},
    "y": {"field": "v", "type": "quantitative", "scale": {"domain": [-0.07, 5], "nice": false}, "axis": {"values": [0, 1, 2, 3, 4, 5], "labels": false, "title": "Intensity /Arbitr.Units"}},
    "color": {"field": "s", "type": "nominal", "scale": {"domain": ["pure water", "1 m NaCl", "2 m NaCl", "3 m NaCl", "5 m NaCl"], "range": ["#000000", "#ee1111", "#1111e0", "#7f7f7f", "#c4c4c4"]}}
   }},
  {"data": {"values": [{}]}, "mark": {"type": "text", "text": "T", "font": "Liberation Serif", "fontSize": 18, "fontStyle": "italic", "fontWeight": "bold", "align": "left", "baseline": "middle"}, "encoding": {"x": {"datum": 3081}, "y": {"datum": 4.83}}},
  {"data": {"values": [{}]}, "mark": {"type": "text", "text": "= 20 °C", "font": "Liberation Serif", "fontSize": 18, "fontWeight": "bold", "align": "left", "baseline": "middle", "dx": 14}, "encoding": {"x": {"datum": 3081}, "y": {"datum": 4.83}}}
 ]},
 {"width": 493, "height": 378, "layer": [
  {"data": {"name": "spectra"}, "transform": [{"filter": "datum.T == 100"}], "mark": {"type": "line", "strokeWidth": 2, "interpolate": "monotone"},
   "encoding": {
    "x": {"field": "w", "type": "quantitative", "scale": {"domain": [2647, 3900], "nice": false, "zero": false}, "axis": {"values": [2700, 3000, 3300, 3600, 3900], "title": null}},
    "y": {"field": "v", "type": "quantitative", "scale": {"domain": [-0.07, 5], "nice": false}, "axis": {"values": [0, 1, 2, 3, 4, 5], "labels": false, "title": null}},
    "color": {"field": "s", "type": "nominal", "scale": {"domain": ["pure water", "1 m NaCl", "2 m NaCl", "3 m NaCl", "5 m NaCl"], "range": ["#000000", "#ee1111", "#1111e0", "#7f7f7f", "#c4c4c4"]}}
   }},
  {"data": {"values": [{}]}, "mark": {"type": "text", "text": "T", "font": "Liberation Serif", "fontSize": 18, "fontStyle": "italic", "fontWeight": "bold", "align": "left", "baseline": "middle"}, "encoding": {"x": {"datum": 3080}, "y": {"datum": 4.83}}},
  {"data": {"values": [{}]}, "mark": {"type": "text", "text": "= 100 °C", "font": "Liberation Serif", "fontSize": 18, "fontWeight": "bold", "align": "left", "baseline": "middle", "dx": 14}, "encoding": {"x": {"datum": 3080}, "y": {"datum": 4.83}}}
 ]},
 {"width": 493, "height": 378, "layer": [
  {"data": {"name": "spectra"}, "transform": [{"filter": "datum.T == 160"}], "mark": {"type": "line", "strokeWidth": 2, "interpolate": "monotone"},
   "encoding": {
    "x": {"field": "w", "type": "quantitative", "scale": {"domain": [2647, 3900], "nice": false, "zero": false}, "axis": {"values": [2700, 3000, 3300, 3600, 3900], "title": "Wavenumber /cm⁻¹"}},
    "y": {"field": "v", "type": "quantitative", "scale": {"domain": [-0.07, 5], "nice": false}, "axis": {"values": [0, 1, 2, 3, 4, 5], "labels": false, "title": "Intensity /Arbitr.Units"}},
    "color": {"field": "s", "type": "nominal", "scale": {"domain": ["pure water", "1 m NaCl", "2 m NaCl", "3 m NaCl", "5 m NaCl"], "range": ["#000000", "#ee1111", "#1111e0", "#7f7f7f", "#c4c4c4"]}}
   }},
  {"data": {"values": [{}]}, "mark": {"type": "text", "text": "T", "font": "Liberation Serif", "fontSize": 18, "fontStyle": "italic", "fontWeight": "bold", "align": "left", "baseline": "middle"}, "encoding": {"x": {"datum": 3078}, "y": {"datum": 4.81}}},
  {"data": {"values": [{}]}, "mark": {"type": "text", "text": "= 160 °C", "font": "Liberation Serif", "fontSize": 18, "fontWeight": "bold", "align": "left", "baseline": "middle", "dx": 14}, "encoding": {"x": {"datum": 3078}, "y": {"datum": 4.81}}}
 ]},
 {"width": 493, "height": 378, "layer": [
  {"data": {"name": "spectra"}, "transform": [{"filter": "datum.T == 300"}], "mark": {"type": "line", "strokeWidth": 2, "interpolate": "monotone"},
   "encoding": {
    "x": {"field": "w", "type": "quantitative", "scale": {"domain": [2647, 3900], "nice": false, "zero": false}, "axis": {"values": [2700, 3000, 3300, 3600, 3900], "title": "Wavenumber /cm⁻¹"}},
    "y": {"field": "v", "type": "quantitative", "scale": {"domain": [-0.07, 5], "nice": false}, "axis": {"values": [0, 1, 2, 3, 4, 5], "labels": false, "title": null}},
    "color": {"field": "s", "type": "nominal", "scale": {"domain": ["pure water", "1 m NaCl", "2 m NaCl", "3 m NaCl", "5 m NaCl"], "range": ["#000000", "#ee1111", "#1111e0", "#7f7f7f", "#c4c4c4"]}}
   }},
  {"data": {"values": [{}]}, "mark": {"type": "text", "text": "T", "font": "Liberation Serif", "fontSize": 18, "fontStyle": "italic", "fontWeight": "bold", "align": "left", "baseline": "middle"}, "encoding": {"x": {"datum": 3098}, "y": {"datum": 4.81}}},
  {"data": {"values": [{}]}, "mark": {"type": "text", "text": "= 300 °C", "font": "Liberation Serif", "fontSize": 18, "fontWeight": "bold", "align": "left", "baseline": "middle", "dx": 14}, "encoding": {"x": {"datum": 3098}, "y": {"datum": 4.81}}}
 ]}
]
}
